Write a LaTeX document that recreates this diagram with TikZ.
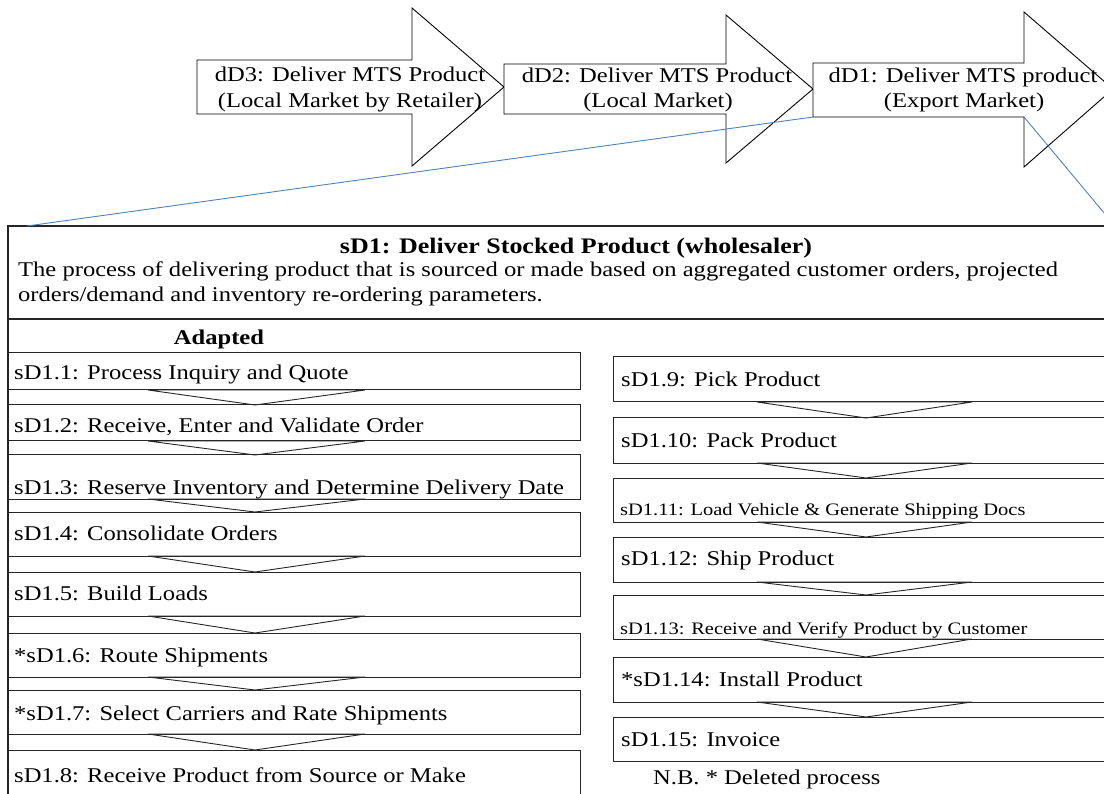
\documentclass[tikz,border=0pt]{standalone}
\usepackage{fontspec}
\setmainfont{Liberation Serif}[FakeStretch=1.17]
\usetikzlibrary{calc}
\definecolor{linkblue}{HTML}{4F81BD}
\tikzset{
  stepbox/.style={draw=black!85, line width=1pt, rectangle, inner sep=0pt, outer sep=0pt, anchor=north west},
  lbl/.style={inner sep=0pt, anchor=base west, font=\fontsize{21}{25}\selectfont},
  lblsmall/.style={inner sep=0pt, anchor=base west, font=\fontsize{17.5}{21}\selectfont},
  ctr/.style={inner sep=0pt, anchor=base, font=\fontsize{21}{25}\selectfont},
  darrow/.style={draw=black, line width=0.9pt, fill=white, line join=miter},
  flow/.style={draw=black!85, line width=0.9pt, line join=miter},
  zoomline/.style={draw=linkblue, line width=0.9pt},
}
\begin{document}
\begin{tikzpicture}[x=1pt,y=-1pt]
\useasboundingbox (0,0) rectangle (1104,794);
\clip (0,0) rectangle (1104,794);

% delivery process arrows (level 2)
\draw[darrow] (197,60) -- (412,60) -- (412,8) -- (504,87) -- (412,166) -- (412,114) -- (197,114) -- cycle;
\draw[darrow] (504,64) -- (726,64) -- (726,15) -- (813,89) -- (726,163) -- (726,114) -- (504,114) -- cycle;
\draw[darrow] (813,63) -- (1024,63) -- (1024,12) -- (1113,89) -- (1024,167) -- (1024,117) -- (813,117) -- cycle;
\coordinate (d1sw) at (813,117);
\coordinate (d1se) at (1024,117);

\node[ctr] (dD3a) at (350,82) {dD3: Deliver MTS Product};
\node[ctr] (dD3b) at (350,108) {(Local Market by Retailer)};
\node[ctr] (dD2a) at (657,83) {dD2: Deliver MTS Product};
\node[ctr] (dD2b) at (658,108) {(Local Market)};
\node[ctr] (dD1a) at (963,83) {dD1: Deliver MTS product};
\node[ctr] (dD1b) at (964,108) {(Export Market)};

% detail panel for sD1
\node[stepbox, line width=1.6pt, minimum width=1107pt, minimum height=620pt] (sd1) at (8,226) {};
\draw[line width=1.3pt, black!85] ($(sd1.north west)+(0,93)$) -- ($(sd1.north east)+(0,93)$);
\node[ctr, font=\fontsize{22.2}{27}\selectfont\bfseries] (title) at (576,254) {sD1: Deliver Stocked Product (wholesaler)};
\node[lbl] (desc1) at (18,277) {The process of delivering product that is sourced or made based on aggregated customer orders, projected};
\node[lbl] (desc2) at (18,302) {orders/demand and inventory re-ordering parameters.};
\node[ctr, font=\fontsize{21}{25}\selectfont\bfseries] (adapted) at (219,345) {Adapted};

% zoom lines from dD1 to the panel
\draw[zoomline] (d1sw) -- ($(sd1.north west)+(19,0)$);
\draw[zoomline] (d1se) -- (sd1.north east);

% left column of steps
\node[stepbox, minimum width=572pt, minimum height=37pt] (b1) at (8,353) {};
\node[stepbox, minimum width=572pt, minimum height=36pt] (b2) at (8,405) {};
\node[stepbox, minimum width=572pt, minimum height=44pt] (b3) at (8,455) {};
\node[stepbox, minimum width=572pt, minimum height=44pt] (b4) at (8,512) {};
\node[stepbox, minimum width=572pt, minimum height=44pt] (b5) at (8,572) {};
\node[stepbox, minimum width=572pt, minimum height=44pt] (b6) at (8,633) {};
\node[stepbox, minimum width=572pt, minimum height=44pt] (b7) at (8,690) {};
\node[stepbox, minimum width=572pt, minimum height=60pt] (b8) at (8,750) {};

\node[lbl] (t1) at (14,380) {sD1.1: Process Inquiry and Quote};
\node[lbl] (t2) at (14,432) {sD1.2: Receive, Enter and Validate Order};
\node[lbl] (t3) at (14,494) {sD1.3: Reserve Inventory and Determine Delivery Date};
\node[lbl] (t4) at (14,540) {sD1.4: Consolidate Orders};
\node[lbl] (t5) at (14,600) {sD1.5: Build Loads};
\node[lbl] (t6) at (14,662) {*sD1.6: Route Shipments};
\node[lbl] (t7) at (14,720) {*sD1.7: Select Carriers and Rate Shipments};
\node[lbl] (t8) at (14,782) {sD1.8: Receive Product from Source or Make};

\foreach \a/\b in {b1/b2,b2/b3,b3/b4,b4/b5,b5/b6,b6/b7,b7/b8}
  \draw[flow] ($(\a.south west)+(140,0)$) -- ($(\b.north west)+(247,0)$) -- ($(\a.south west)+(357,0)$) -- cycle;

% right column of steps
\node[stepbox, minimum width=520pt, minimum height=45pt] (r9) at (613,357) {};
\node[stepbox, minimum width=520pt, minimum height=45pt] (r10) at (613,418) {};
\node[stepbox, minimum width=520pt, minimum height=44pt] (r11) at (613,478) {};
\node[stepbox, minimum width=520pt, minimum height=45pt] (r12) at (613,537) {};
\node[stepbox, minimum width=520pt, minimum height=44pt] (r13) at (613,595) {};
\node[stepbox, minimum width=520pt, minimum height=45pt] (r14) at (613,657) {};
\node[stepbox, minimum width=520pt, minimum height=44pt] (r15) at (613,717) {};

\node[lbl] (t9) at (621,387) {sD1.9: Pick Product};
\node[lbl] (t10) at (621,447) {sD1.10: Pack Product};
\node[lblsmall] (t11) at (620,515) {sD1.11: Load Vehicle \& Generate Shipping Docs};
\node[lbl] (t12) at (621,565) {sD1.12: Ship Product};
\node[lblsmall] (t13) at (620,634) {sD1.13: Receive and Verify Product by Customer};
\node[lbl] (t14) at (621,686) {*sD1.14: Install Product};
\node[lbl] (t15) at (621,746) {sD1.15: Invoice};

\foreach \a/\b in {r9/r10,r10/r11,r11/r12,r12/r13,r13/r14,r14/r15}
  \draw[flow] ($(\a.south west)+(144,0)$) -- ($(\b.north west)+(253,0)$) -- ($(\a.south west)+(359,0)$) -- cycle;

\node[lbl] (note) at (653,784) {N.B. * Deleted process};
\end{tikzpicture}
\end{document}
